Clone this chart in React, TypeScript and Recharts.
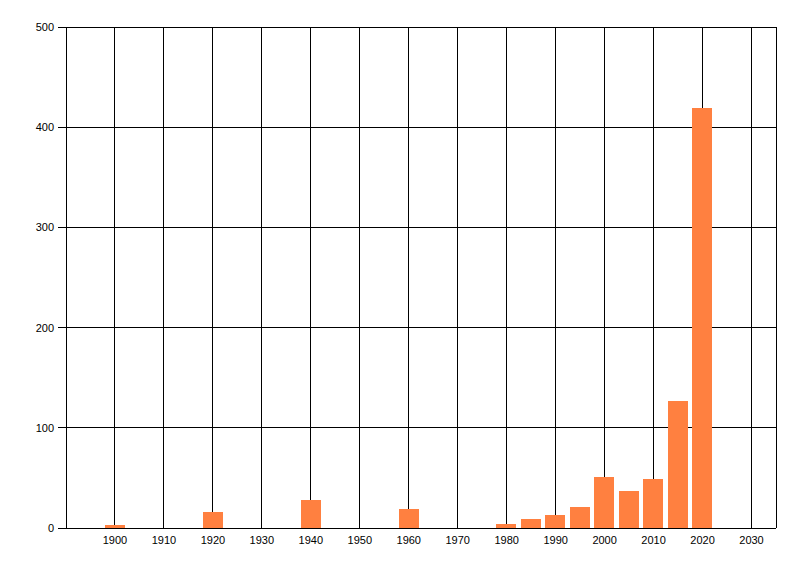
import React from "react";
import { BarChart, Bar, XAxis, YAxis, CartesianGrid } from "recharts";

const years = [1900, 1920, 1940, 1960, 1980, 1985, 1990, 1995, 2000, 2005, 2010, 2015, 2020];
const counts = [3, 16, 28, 19, 4, 9, 13, 21, 51, 37, 49, 127, 419];
const xTicks = [1900, 1910, 1920, 1930, 1940, 1950, 1960, 1970, 1980, 1990, 2000, 2010, 2020, 2030];
const yTicks = [0, 100, 200, 300, 400, 500];

const data = years.map((y, i) => ({ year: y, count: counts[i] }));

const tickStyle = { fontFamily: "'Liberation Sans', Arial, sans-serif", fontSize: 11, fill: "#000" };

export default function App() {
  return (
    <div style={{ position: "absolute", left: 0, top: 0, width: 800, height: 576, background: "#fff" }}>
      <style>{"svg line, svg path, svg rect { shape-rendering: crispEdges; }"}</style>
      <BarChart
        width={800}
        height={576}
        data={data}
        margin={{ top: 27, right: 24, bottom: 18, left: 0 }}
        barSize={20}
      >
        <CartesianGrid stroke="#000" strokeWidth={1} horizontal vertical />
        <XAxis
          dataKey="year"
          type="number"
          domain={[1890, 2035]}
          ticks={xTicks}
          allowDataOverflow
          height={30}
          tickLine={false}
          axisLine={{ stroke: "#000" }}
          tick={tickStyle}
          tickSize={6}
          tickMargin={2}
        />
        <YAxis
          type="number"
          domain={[0, 500]}
          ticks={yTicks}
          width={66}
          tickLine={{ stroke: "#000" }}
          axisLine={{ stroke: "#000" }}
          tick={tickStyle}
          tickSize={8}
          tickMargin={4}
          interval={0}
        />
        <Bar dataKey="count" fill="#FF8040" isAnimationActive={false} />
      </BarChart>
    </div>
  );
}
